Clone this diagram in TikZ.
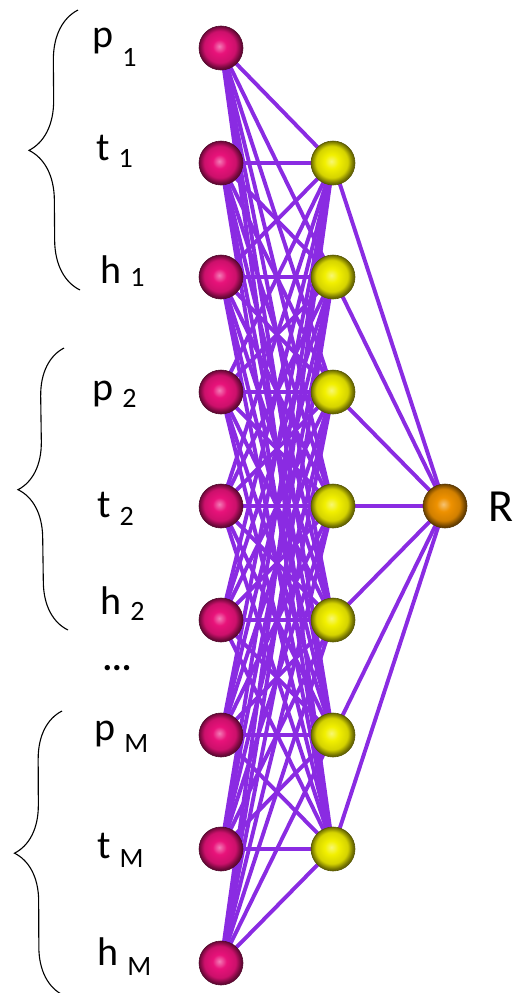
\documentclass[tikz,border=0pt]{standalone}
\usepackage{fontspec}
\setmainfont{Carlito}
\usetikzlibrary{decorations.pathreplacing, backgrounds}

\definecolor{netedge}{RGB}{138,43,226}
\definecolor{inball}{RGB}{232,18,122}
\definecolor{hidball}{RGB}{242,240,0}
\definecolor{outball}{RGB}{238,145,0}

% sphere look for the neurons
\pgfdeclareradialshading[sphcol]{sphere}{\pgfpoint{-2bp}{2bp}}{%
  color(0bp)=(sphcol!55!white); color(8bp)=(sphcol); color(18bp)=(sphcol!88!black);
  color(24bp)=(sphcol!45!black); color(50bp)=(sphcol!45!black)}

% input label with lowered index
\newcommand{\inlbl}[3]{#1\ \raisebox{-#3pt}{\fontsize{28}{28}\selectfont #2}}

\begin{document}
\begin{tikzpicture}[
    x=1pt, y=-1pt,
    neuron/.style={circle, inner sep=0pt, minimum size=44pt, draw=#1!35!black, line width=0.6pt,
                   shading=sphere, /utils/exec={\colorlet{sphcol}{#1}}},
    link/.style={draw=netedge, line width=3.9pt},
    lbl/.style={anchor=base west, inner sep=0pt, font=\fontsize{40}{40}\selectfont},
    group/.style={draw=black, line width=1.1pt, decorate, decoration={brace, amplitude=#1}}
]
\useasboundingbox (0,0) rectangle (517,993);

% input layer
\foreach \n/\y in {p1/48, t1/163, h1/277, p2/392, t2/506, h2/620, pM/735, tM/849, hM/963}
  \node[neuron=inball] (\n) at (221,\y) {};

% hidden layer
\foreach \k/\y in {1/163, 2/277, 3/392, 4/506, 5/620, 6/735, 7/849}
  \node[neuron=hidball] (s\k) at (333,\y) {};

% output
\node[neuron=outball] (R) at (445,506) {};
\node[anchor=west, inner sep=0pt, font=\fontsize{46}{46}\selectfont] (Rlbl) at (488,507) {R};

% labels
\node[lbl] (lp1) at (92,47) {\inlbl{p}{1}{19}};
\node[lbl] (lt1) at (96,160) {\inlbl{t}{1}{7}};
\node[lbl] (lh1) at (100,283) {\inlbl{h}{1}{3}};
\node[lbl] (lp2) at (92,400) {\inlbl{p}{2}{7}};
\node[lbl] (lt2) at (97,517) {\inlbl{t}{2}{8}};
\node[lbl] (lh2) at (100,614) {\inlbl{h}{2}{6}};
\node[lbl] (lpM) at (94,740) {\inlbl{p}{M}{12}};
\node[lbl] (ltM) at (97,858) {\inlbl{t}{M}{9}};
\node[lbl] (lhM) at (97,965) {\inlbl{h}{M}{10}};
\node[font=\bfseries\fontsize{36}{36}\selectfont, inner sep=0pt] (dots) at (117,668) {...};

% braces
\coordinate (g1a) at (80,290);  \coordinate (g1b) at (78,10);
\coordinate (g2a) at (68,630);  \coordinate (g2b) at (64,348);
\coordinate (g3a) at (63,995);  \coordinate (g3b) at (62,711);
\draw[group=50] (g1a) -- (g1b);
\draw[group=48] (g2a) -- (g2b);
\draw[group=48] (g3a) -- (g3b);

% connections
\begin{scope}[on background layer]
  \foreach \n in {p1, t1, h1, p2, t2, h2, pM, tM, hM}
    \foreach \k in {1,...,7}
      \draw[link] (\n.center) -- (s\k.center);
  \foreach \k in {1,...,7}
    \draw[link] (s\k.center) -- (R.center);
\end{scope}

\end{tikzpicture}
\end{document}
